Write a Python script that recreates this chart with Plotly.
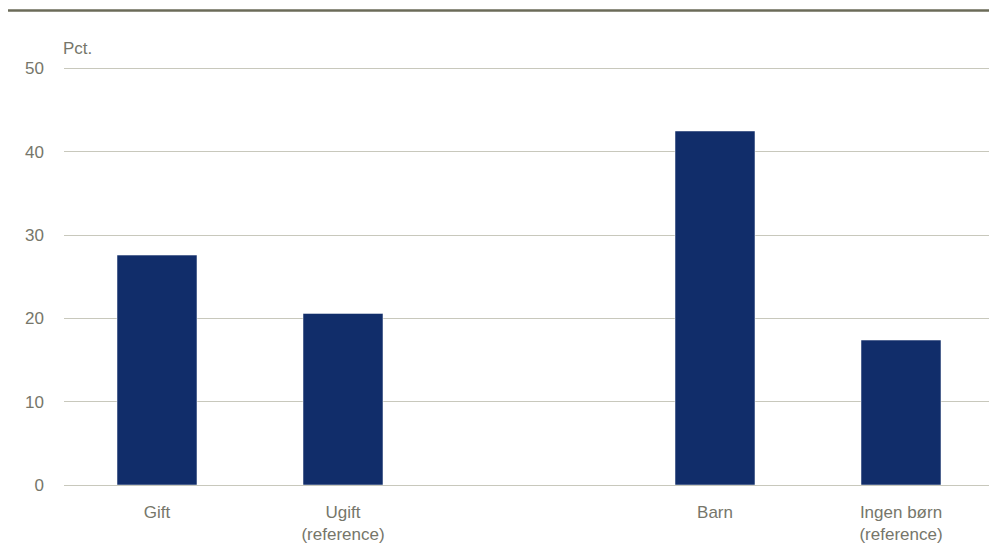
import plotly.graph_objects as go

categories = ["Gift", "Ugift<br>(reference)", " ", "Barn", "Ingen børn<br>(reference)"]
values = [27.6, 20.6, None, 42.5, 17.4]
y_ticks = [0, 10, 20, 30, 40, 50]

text_color = "#76766a"
grid_color = "#c8c8bc"

fig = go.Figure()
fig.add_trace(go.Bar(
    x=categories, y=values,
    marker=dict(color="#112d6a", line=dict(color="#ffffff", width=0.5)),
))

fig.update_layout(
    width=989, height=546,
    margin=dict(l=56, r=3, t=58, b=69),
    paper_bgcolor="white", plot_bgcolor="white",
    bargap=0.57,
    showlegend=False,
    font=dict(family="Liberation Sans, Arial, sans-serif", size=17, color=text_color),
    xaxis=dict(
        type="category", showgrid=False, zeroline=False, showline=False,
        ticks="", tickfont=dict(size=17, color=text_color), ticklabelstandoff=15,
    ),
    yaxis=dict(
        range=[0, 50.3], tickvals=y_ticks, showgrid=True, gridcolor=grid_color, gridwidth=1,
        zeroline=True, zerolinecolor=grid_color, zerolinewidth=1, showline=False,
        ticks="", tickfont=dict(size=17, color=text_color), ticklabelstandoff=19,
    ),
    shapes=[dict(
        type="line", xref="paper", yref="paper",
        x0=-0.0602, x1=1.0032, y0=1.1325, y1=1.1325,
        line=dict(color="#6b6b58", width=2.5),
    )],
    annotations=[dict(
        text="Pct.", xref="paper", yref="paper", x=-0.003, y=1.041,
        xanchor="left", yanchor="middle", showarrow=False,
        font=dict(size=17, color=text_color),
    )],
)

fig.write_html("out.html")
